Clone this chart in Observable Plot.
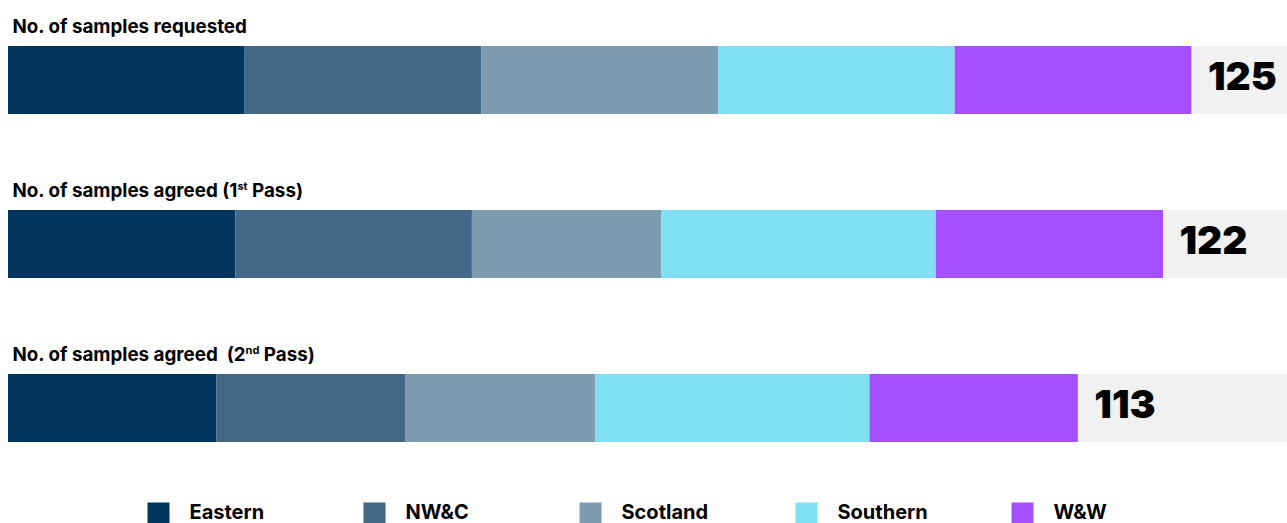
<!DOCTYPE html>
<html>
<head>
<meta charset="utf-8">
<script src="https://cdn.jsdelivr.net/npm/d3@7"></script>
<script src="https://cdn.jsdelivr.net/npm/@observablehq/plot@0.6"></script>
<style>
  html, body { margin: 0; padding: 0; background: #fff; }
  svg { display: block; }
  text { white-space: pre; }
</style>
</head>
<body>
<div id="chart"></div>
<script>
const stages = ["No. of samples requested", "No. of samples agreed (1st Pass)", "No. of samples agreed  (2nd Pass)"];
const regions = ["Eastern", "NW&C", "Scotland", "Southern", "W&W"];
const colors = ["#03365f", "#426887", "#7f9bb0", "#80dff1", "#a54fff"];
const requested = [25, 25, 25, 25, 25];
const agreed1st = [24, 25, 20, 29, 24];
const agreed2nd = [22, 20, 20, 29, 22];
const xMax = 135.1;

const series = [requested, agreed1st, agreed2nd];
const rows = [];
stages.forEach((s, i) => regions.forEach((r, j) => rows.push({stage: s, region: r, value: series[i][j]})));
const totals = stages.map((s, i) => ({stage: s, total: d3.sum(series[i]), max: xMax}));

const main = Plot.plot({
  width: 1287,
  height: 480,
  marginLeft: 8,
  marginRight: 0,
  marginTop: 0,
  marginBottom: 0,
  style: {fontFamily: "Inter, 'Noto Sans', sans-serif", background: "#fff"},
  x: {domain: [0, xMax], axis: null},
  y: {type: "band", domain: stages, range: [46, 442], paddingInner: 0.5854, paddingOuter: 0, axis: null},
  color: {domain: regions, range: colors},
  marks: [
    Plot.barX(totals, {x1: 0, x2: "max", y: "stage", fill: "#f1f1f1"}),
    Plot.barX(rows, {x: "value", y: "stage", fill: "region", order: regions}),
    Plot.text(totals, {x: "total", y: "stage", text: d => String(d.total), textAnchor: "start", dx: 16, dy: -3, fontSize: 39, fontWeight: 900, fill: "#000"}),
    Plot.text(totals, {x: 0, y: "stage", text: "stage", textAnchor: "start", lineAnchor: "bottom", dx: 4, dy: -48, fontSize: 18.8, fontWeight: 700, fill: "#000"})
  ]
});

// superscript ordinal suffixes in titles
d3.select(main).selectAll("text").each(function() {
  const t = this.textContent;
  const m = t.match(/^(.*\d)(st|nd|rd|th)( .*)$/);
  if (!m) return;
  const el = d3.select(this);
  el.text(null);
  el.append("tspan").text(m[1]);
  el.append("tspan").attr("font-size", 11).attr("dy", -7).text(m[2]);
  el.append("tspan").attr("dy", 7).text(m[3]);
});

const legend = Plot.plot({
  width: 1287,
  height: 43,
  marginLeft: 0,
  marginRight: 0,
  marginTop: 23,
  marginBottom: 0,
  style: {fontFamily: "Inter, 'Noto Sans', sans-serif", background: "#fff"},
  x: {type: "point", domain: regions, range: [158, 1022], padding: 0, axis: null},
  color: {domain: regions, range: colors},
  marks: [
    Plot.dot(regions, {x: d => d, fill: d => d, symbol: "square", r: 22 / Math.sqrt(Math.PI)}),
    Plot.text(regions, {x: d => d, text: d => d, textAnchor: "start", dx: 31, dy: -1, fontSize: 20, fontWeight: 700, fill: "#000"})
  ]
});

document.getElementById("chart").append(main, legend);
</script>
</body>
</html>
